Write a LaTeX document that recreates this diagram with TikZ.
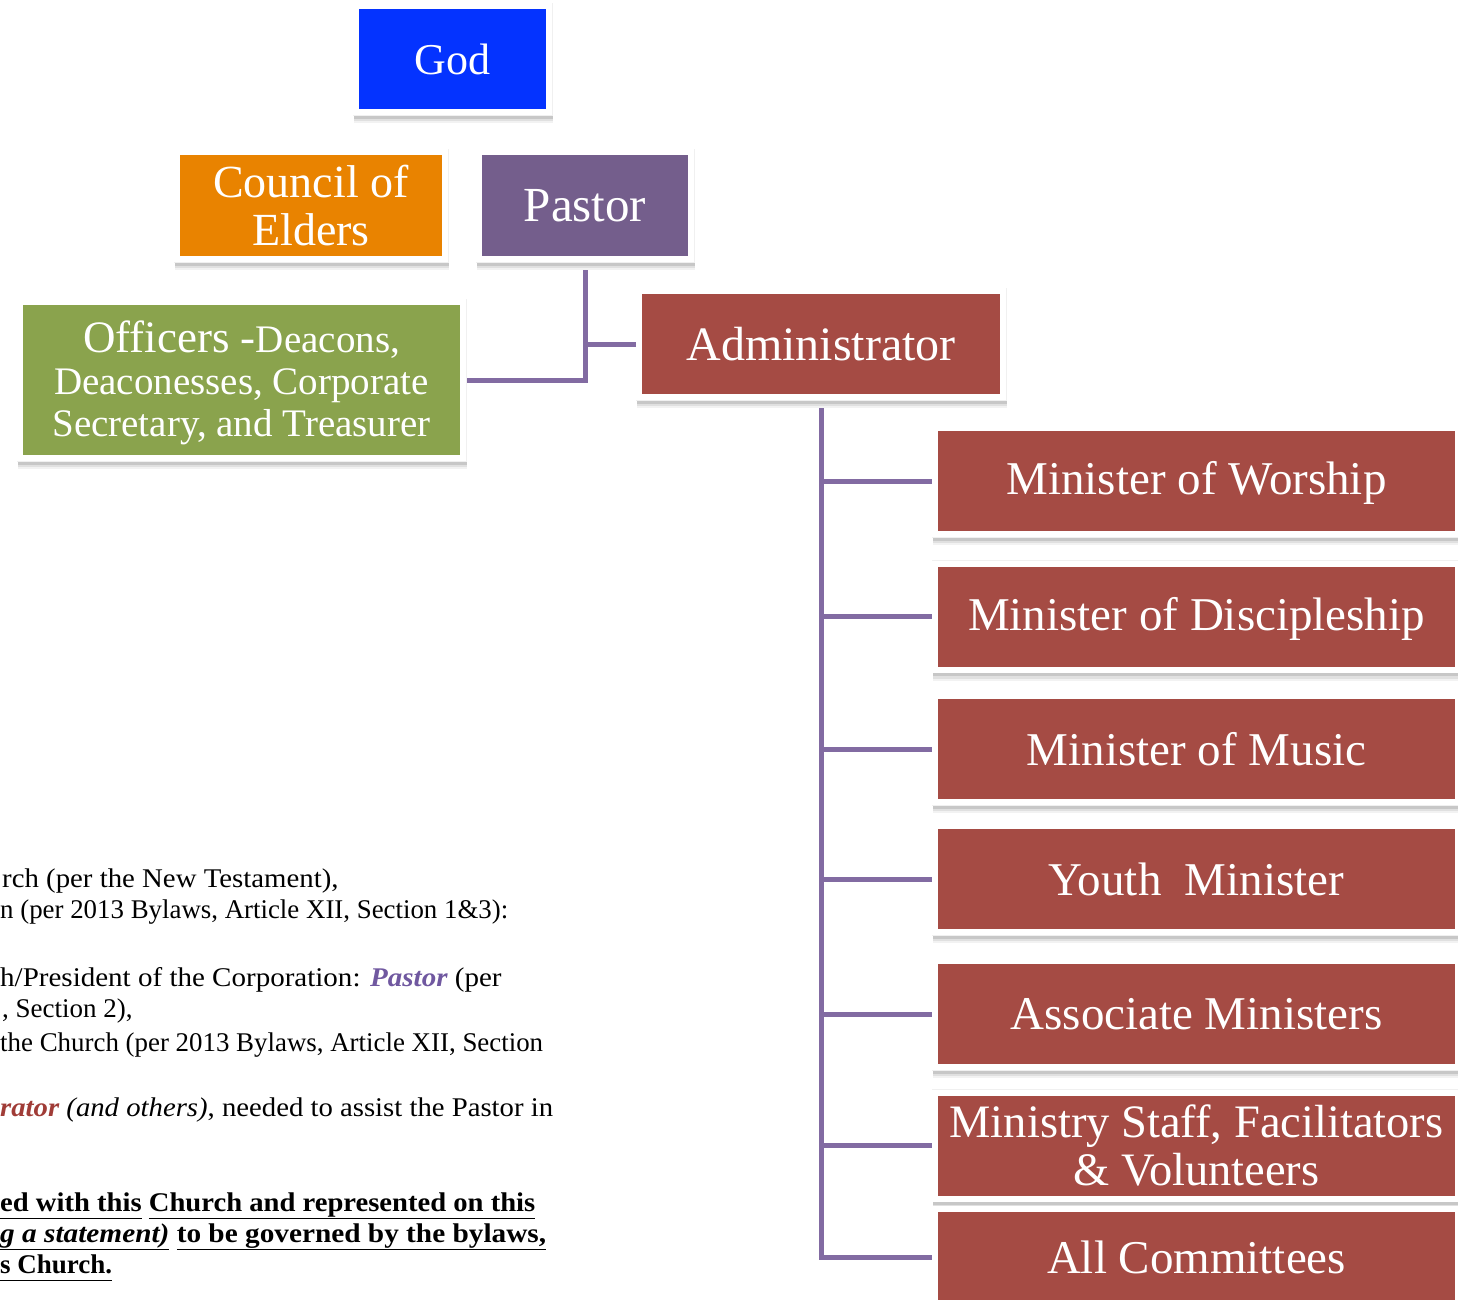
\documentclass[tikz,border=0pt]{standalone}
\usepackage{graphicx}
\usepackage{fontspec}
\setmainfont{Liberation Serif}
\pgfdeclarelayer{bg}
\pgfsetlayers{bg,main}
\definecolor{godblue}{RGB}{4,51,255}
\definecolor{elderorange}{RGB}{233,131,0}
\definecolor{pastorpurple}{RGB}{116,94,140}
\definecolor{officergreen}{RGB}{138,163,77}
\definecolor{staffred}{RGB}{165,75,68}
\definecolor{linkpurple}{RGB}{130,107,162}
\definecolor{txtpurple}{RGB}{112,88,160}
\definecolor{txtred}{RGB}{160,60,55}
\newcommand{\ulseg}[1]{\underline{\vphantom{gy}#1}}
\tikzset{
  orgbox/.style={draw=white, line width=6pt, text=white, align=center, inner sep=0pt,
    preaction={draw=black!5, fill=black!5, line width=6pt, transform canvas={xshift=1pt,yshift=-8pt}},
    preaction={draw=black!12, fill=black!12, line width=6pt, transform canvas={xshift=0.8pt,yshift=-6pt}},
    preaction={draw=black!22, fill=black!22, line width=6pt, transform canvas={xshift=0.5pt,yshift=-3.5pt}},
    preaction={draw=black!6, line width=7pt}},
  rightbox/.style={orgbox, fill=staffred, minimum width=523pt, minimum height=106pt,
    font=\fontsize{47}{48}\selectfont},
  boxtext/.style={text=white, align=center, inner sep=0pt},
  link/.style={draw=linkpurple, line width=5pt},
  bodytext/.style={anchor=base west, inner sep=0pt, font=\fontsize{27}{31}\selectfont, text=black},
  boldtext/.style={bodytext, font=\fontsize{27}{31}\selectfont\bfseries}
}
\begin{document}
\begin{tikzpicture}[x=1pt,y=-1pt]
\useasboundingbox (0,0) rectangle (1458,1299);
\clip (0,0) rectangle (1458,1299);

% top boxes
\node[orgbox, fill=godblue, minimum width=193pt, minimum height=106pt,
  font=\fontsize{44}{46}\selectfont] (god) at (452.5,59) {God};
\node[orgbox, fill=elderorange, minimum width=268pt, minimum height=107pt,
  font=\fontsize{46}{48}\selectfont] (elders) at (311,205.5) {Council of\\Elders};
\node[orgbox, fill=pastorpurple, minimum width=212pt, minimum height=107pt,
  font=\fontsize{49}{50}\selectfont] (pastor) at (585,205.5) {Pastor};
\node[orgbox, fill=officergreen, minimum width=443pt, minimum height=156pt] (officers) at (241.5,380) {};
\node[boxtext, font=\fontsize{39}{42}\selectfont] (officerstext) at (241.5,383)
  {{\fontsize{45}{43}\selectfont Officers -}Deacons,\\Deaconesses, Corporate\\Secretary, and Treasurer};
\node[orgbox, fill=staffred, minimum width=364pt, minimum height=106pt,
  font=\fontsize{48}{50}\selectfont] (admin) at (821,344) {Administrator};

% right column
\node[rightbox] (worship) at (1196.5,481) {};
\node[boxtext, font=\fontsize{47}{48}\selectfont] (worshiptext) at (1196.5,483) {Minister of Worship};
\node[rightbox] (disciple) at (1196.5,616.5) {};
\node[boxtext, font=\fontsize{47}{48}\selectfont] (discipletext) at (1196.5,618.5) {Minister of Discipleship};
\node[rightbox] (music) at (1196.5,749) {Minister of Music};
\node[rightbox] (youth) at (1196.5,879) {Youth\ \ Minister};
\node[rightbox] (assoc) at (1196.5,1014) {Associate Ministers};
\node[rightbox, font=\fontsize{46.5}{48}\selectfont] (mstaff) at (1196.5,1145.5) {Ministry Staff, Facilitators\\\& Volunteers};
\node[rightbox, minimum height=96pt] (committees) at (1196.5,1257) {All Committees};

% connectors
\begin{pgfonlayer}{bg}
\draw[link] (pastor.south) |- (officers.east);
\draw[link] (pastor.south) |- (admin.west);
\draw[link] (admin.south) |- (worship.west);
\draw[link] (admin.south) |- (disciple.west);
\draw[link] (admin.south) |- (music.west);
\draw[link] (admin.south) |- (youth.west);
\draw[link] (admin.south) |- (assoc.west);
\draw[link] (admin.south) |- (mstaff.west);
\draw[link] (admin.south) |- (committees.west);
\end{pgfonlayer}

% document text at the lower left
\node[bodytext] (t1) at (2,887) {\scalebox{1.067}[1]{rch (per the New Testament),}};
\node[bodytext] (t2) at (0,918) {\scalebox{0.995}[1]{n (per 2013 Bylaws, Article XII, Section 1\&3):}};
\node[bodytext] (t3) at (0,986) {\scalebox{1.075}[1]{h/President of the Corporation: {\color{txtpurple}\bfseries\itshape Pastor} (per}};
\node[bodytext] (t4) at (2,1017) {, Section 2),};
\node[bodytext] (t5) at (0,1051) {\scalebox{0.996}[1]{the Church (per 2013 Bylaws, Article XII, Section}};
\node[bodytext] (t6) at (0,1116) {\scalebox{1.064}[1]{{\color{txtred}\bfseries\itshape rator} \textit{(and others)}, needed to assist the Pastor in}};
\node[boldtext] (t7) at (0,1211) {\scalebox{1.06}[1]{\ulseg{ed with this} \ulseg{Church and represented on this}}};
\node[boldtext] (t8) at (0,1242) {\scalebox{1.085}[1]{\ulseg{\textit{g a statement)}} \ulseg{to be governed by the bylaws,}}};
\node[boldtext] (t9) at (0,1273) {\ulseg{s Church.}};
\end{tikzpicture}
\end{document}
